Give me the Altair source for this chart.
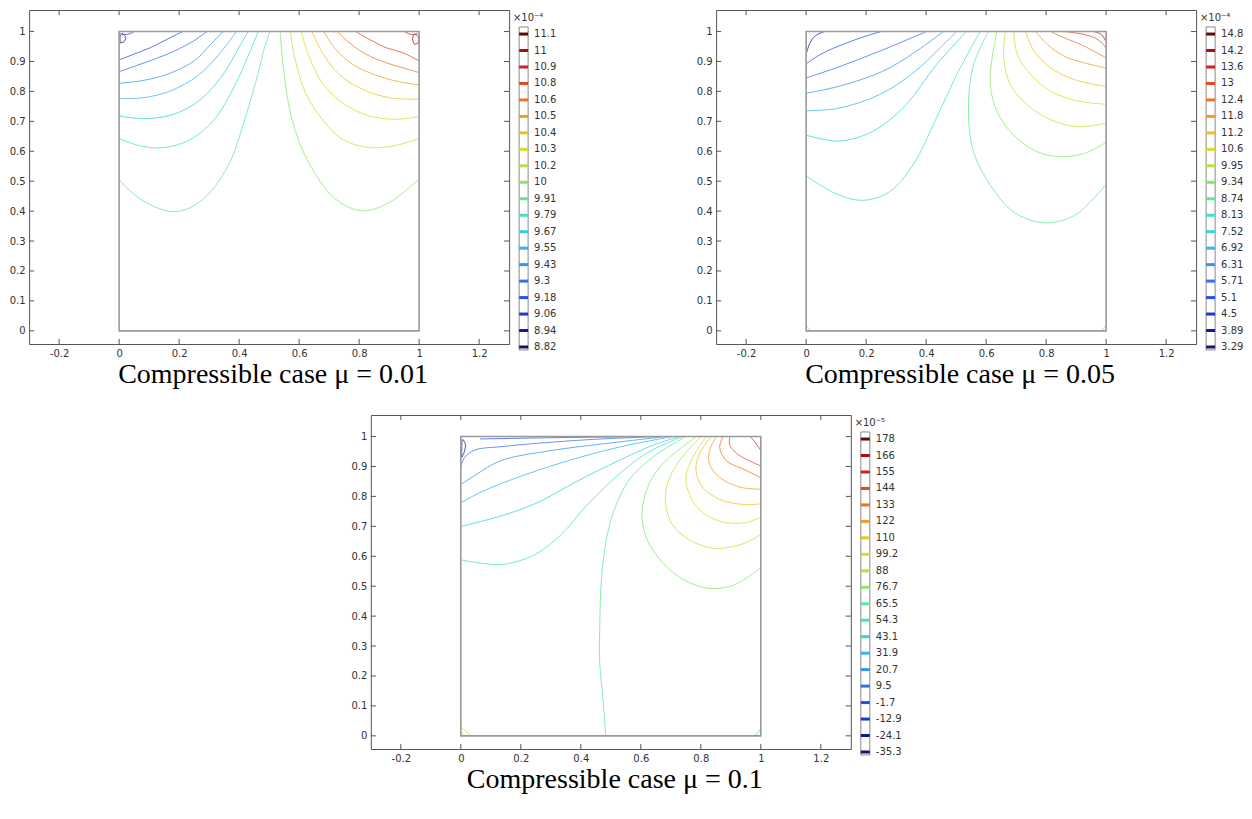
import altair as alt
import pandas as pd

# ---------------- data ----------------
levels_mu001 = ["8.82", "8.94", "9.06", "9.18", "9.3", "9.43", "9.55", "9.67", "9.79", "9.91",
                "10", "10.2", "10.3", "10.4", "10.5", "10.6", "10.8", "10.9", "11", "11.1"]
levels_mu005 = ["3.29", "3.89", "4.5", "5.1", "5.71", "6.31", "6.92", "7.52", "8.13", "8.74",
                "9.34", "9.95", "10.6", "11.2", "11.8", "12.4", "13", "13.6", "14.2", "14.8"]
levels_mu01 = ["-35.3", "-24.1", "-12.9", "-1.7", "9.5", "20.7", "31.9", "43.1", "54.3", "65.5",
               "76.7", "88", "99.2", "110", "122", "133", "144", "155", "166", "178"]

level_colors = ["#1b1464", "#0f1a9c", "#1f34cc", "#2550e6", "#3371ee", "#3593f2", "#33b5f0",
                "#33d2e0", "#3fe3c0", "#5ce898", "#86e865", "#b4e63a", "#d9dc22", "#eec31d",
                "#ef9f1f", "#ea7420", "#e4491e", "#d4201a", "#a90d0d", "#5e0a0a"]

x_ticks = [-0.2, 0, 0.2, 0.4, 0.6, 0.8, 1, 1.2]
y_ticks = [0, 0.1, 0.2, 0.3, 0.4, 0.5, 0.6, 0.7, 0.8, 0.9, 1]
x_domain = [-0.3, 1.3]
y_domain = [-0.044, 1.072]
domain_box = [0, 1]

captions = ["Compressible case \u03bc = 0.01", "Compressible case \u03bc = 0.05",
            "Compressible case \u03bc = 0.1"]
exponents = ["\u00d710\u207b\u2074", "\u00d710\u207b\u2074", "\u00d710\u207b\u2075"]

# contour lines: (level index, [(x, y), ...])
contours_mu001 = [
    (0, [(0.004, 0.962), (0.016, 0.966), (0.022, 0.980), (0.012, 0.992), (0.004, 0.985), (0.004, 0.962)]),
    (2, [(0.0, 0.994), (0.025, 0.990), (0.05, 1.0)]),
    (3, [(0, 0.905), (0.048, 0.924), (0.104, 0.946), (0.160, 0.974), (0.211, 1)]),
    (4, [(0, 0.866), (0.071, 0.891), (0.160, 0.924), (0.239, 0.963), (0.293, 1)]),
    (5, [(0, 0.827), (0.071, 0.835), (0.160, 0.857), (0.250, 0.902), (0.306, 0.958), (0.346, 1)]),
    (6, [(0, 0.776), (0.082, 0.779), (0.172, 0.802), (0.262, 0.852), (0.329, 0.919), (0.391, 1)]),
    (7, [(0, 0.718), (0.082, 0.709), (0.183, 0.724), (0.273, 0.774), (0.351, 0.863), (0.396, 0.941), (0.430, 1)]),
    (8, [(0, 0.642), (0.071, 0.618), (0.149, 0.612), (0.239, 0.640), (0.318, 0.707), (0.385, 0.818), (0.435, 0.930), (0.464, 1)]),
    (9, [(0, 0.504), (0.071, 0.440), (0.183, 0.398), (0.273, 0.434), (0.363, 0.551), (0.419, 0.707), (0.464, 0.863), (0.486, 0.952), (0.503, 1)]),
    (10, [(0.537, 1), (0.548, 0.874), (0.576, 0.707), (0.632, 0.562), (0.722, 0.440), (0.811, 0.401), (0.901, 0.429), (1, 0.508)]),
    (11, [(0.570, 1), (0.587, 0.907), (0.621, 0.796), (0.677, 0.707), (0.744, 0.640), (0.834, 0.612), (0.924, 0.620), (1, 0.642)]),
    (12, [(0.607, 1), (0.632, 0.919), (0.677, 0.829), (0.744, 0.762), (0.834, 0.718), (0.924, 0.707), (1, 0.716)]),
    (13, [(0.643, 1), (0.677, 0.930), (0.733, 0.857), (0.811, 0.807), (0.901, 0.779), (1, 0.774)]),
    (14, [(0.682, 1), (0.722, 0.941), (0.778, 0.891), (0.856, 0.854), (0.935, 0.832), (1, 0.822)]),
    (15, [(0.727, 1), (0.767, 0.963), (0.823, 0.924), (0.890, 0.896), (1, 0.863)]),
    (16, [(0.789, 1), (0.834, 0.974), (0.890, 0.946), (0.946, 0.929), (1, 0.902)]),
    (17, [(0.95, 1.0), (0.975, 0.990), (0.996, 0.994)]),
    (18, [(0.984, 0.958), (0.996, 0.962), (0.996, 0.985), (0.984, 0.990), (0.978, 0.975), (0.984, 0.958)]),
]

contours_mu005 = [
    (1, [(0.002, 0.93), (0.012, 0.96), (0.03, 0.985), (0.06, 1.0)]),
    (3, [(0, 0.892), (0.05, 0.925), (0.13, 0.96), (0.2, 0.985), (0.25, 1)]),
    (4, [(0, 0.845), (0.098, 0.878), (0.244, 0.934), (0.401, 1)]),
    (5, [(0, 0.794), (0.109, 0.817), (0.255, 0.867), (0.367, 0.934), (0.457, 1)]),
    (6, [(0, 0.735), (0.109, 0.744), (0.244, 0.789), (0.356, 0.861), (0.446, 0.945), (0.502, 1)]),
    (7, [(0, 0.654), (0.109, 0.634), (0.221, 0.666), (0.333, 0.755), (0.434, 0.889), (0.535, 1)]),
    (8, [(0, 0.518), (0.098, 0.459), (0.187, 0.436), (0.277, 0.464), (0.356, 0.554), (0.434, 0.710), (0.502, 0.856), (0.580, 1)]),
    (9, [(0.608, 1), (0.558, 0.889), (0.541, 0.744), (0.558, 0.598), (0.614, 0.487), (0.692, 0.397), (0.793, 0.361), (0.895, 0.386), (1, 0.489)]),
    (10, [(0.636, 1), (0.620, 0.912), (0.614, 0.822), (0.636, 0.733), (0.692, 0.654), (0.771, 0.598), (0.850, 0.582), (0.928, 0.593), (1, 0.630)]),
    (11, [(0.664, 1), (0.659, 0.912), (0.681, 0.822), (0.737, 0.755), (0.816, 0.705), (0.906, 0.682), (1, 0.694)]),
    (12, [(0.692, 1), (0.704, 0.923), (0.749, 0.856), (0.816, 0.800), (0.906, 0.768), (1, 0.757)]),
    (13, [(0.732, 1), (0.760, 0.934), (0.816, 0.878), (0.895, 0.839), (1, 0.817)]),
    (14, [(0.765, 1), (0.805, 0.956), (0.861, 0.917), (0.928, 0.895), (1, 0.878)]),
    (15, [(0.816, 1), (0.861, 0.979), (0.917, 0.956), (1, 0.912)]),
    (16, [(0.861, 1), (0.928, 0.990), (0.973, 0.973), (1, 0.945)]),
    (18, [(0.96, 1.0), (0.985, 0.99), (0.997, 0.97)]),
    (10, [(0.0, 0.02), (0.008, 0.008), (0.02, 0.0)]),
    (10, [(0.98, 0.0), (0.992, 0.008), (1.0, 0.02)]),
]

contours_mu01 = [
    (1, [(0.003, 0.93), (0.012, 0.95), (0.015, 0.975), (0.006, 0.99), (0.003, 0.93)]),
    (3, [(0.064, 0.992), (0.300, 0.996), (0.600, 1)]),
    (4, [(0, 0.899), (0.013, 0.930), (0.047, 0.955), (0.132, 0.966), (0.300, 0.981), (0.469, 0.992), (0.660, 1)]),
    (5, [(0, 0.840), (0.053, 0.874), (0.132, 0.919), (0.300, 0.953), (0.469, 0.975), (0.683, 1)]),
    (6, [(0, 0.779), (0.075, 0.818), (0.188, 0.863), (0.357, 0.919), (0.525, 0.964), (0.705, 1)]),
    (7, [(0, 0.700), (0.132, 0.734), (0.255, 0.779), (0.390, 0.852), (0.525, 0.919), (0.638, 0.970), (0.728, 1)]),
    (8, [(0, 0.588), (0.075, 0.576), (0.143, 0.573), (0.244, 0.604), (0.334, 0.672), (0.413, 0.762), (0.503, 0.852), (0.615, 0.942), (0.739, 1)]),
    (9, [(0.750, 1), (0.638, 0.930), (0.559, 0.852), (0.514, 0.762), (0.486, 0.661), (0.469, 0.526), (0.463, 0.357), (0.463, 0.245), (0.475, 0.110), (0.483, 0)]),
    (10, [(0.784, 1), (0.672, 0.908), (0.627, 0.840), (0.604, 0.751), (0.615, 0.672), (0.660, 0.593), (0.728, 0.531), (0.818, 0.494), (0.908, 0.503), (1, 0.562)]),
    (11, [(0.801, 1), (0.728, 0.919), (0.688, 0.840), (0.683, 0.773), (0.705, 0.706), (0.762, 0.655), (0.840, 0.627), (0.930, 0.638), (1, 0.672)]),
    (12, [(0.818, 1), (0.773, 0.930), (0.750, 0.863), (0.762, 0.807), (0.795, 0.756), (0.863, 0.717), (0.942, 0.711), (1, 0.730)]),
    (13, [(0.835, 1), (0.795, 0.942), (0.784, 0.885), (0.807, 0.829), (0.863, 0.790), (0.942, 0.773), (1, 0.775)]),
    (14, [(0.852, 1), (0.829, 0.953), (0.829, 0.908), (0.863, 0.863), (0.930, 0.831), (1, 0.824)]),
    (15, [(0.874, 1), (0.863, 0.964), (0.885, 0.919), (0.942, 0.891), (1, 0.863)]),
    (16, [(0.897, 1), (0.897, 0.970), (0.930, 0.936), (1, 0.902)]),
    (17, [(0.964, 1), (0.981, 0.981), (1, 0.953)]),
    (10, [(0.0, 0.03), (0.012, 0.018), (0.025, 0.008), (0.03, 0.0)]),
    (11, [(0.0, 0.015), (0.01, 0.006), (0.015, 0.0)]),
    (8, [(0.975, 0.0), (0.99, 0.01), (1.0, 0.025)]),
]

# ---------------- styling ----------------
AXIS_FONT = "DejaVu Sans"
CAPTION_FONT = "Liberation Serif"
PANEL_W, PANEL_H = 480, 334
CB_W, CB_H = 9, 342
cb_domain = [-0.304, 20.46]
cb_box = [-0.18, 19.43]
cb_title_pos = 19.95
tick_len = 0.017


def panel(contours, caption):
    rows = []
    for k, (lvl, pts) in enumerate(contours):
        for j, (px, py) in enumerate(pts):
            rows.append({"line": k, "o": j, "lvl": lvl, "x": px, "y": py})
    df = pd.DataFrame(rows)

    xs = alt.Scale(domain=x_domain, nice=False, zero=False)
    ys = alt.Scale(domain=y_domain, nice=False, zero=False)
    lab = "datum.value < 0 ? '-' + format(-datum.value, '~g') : format(datum.value, '~g')"
    common = dict(ticks=False, domain=False, grid=False, labelPadding=4, title=None, labelFont=AXIS_FONT,
                  labelFontSize=10, labelColor="#333333", labelOverlap=False, labelExpr=lab)
    X = alt.X("x:Q", scale=xs, axis=alt.Axis(values=x_ticks, **common))
    Y = alt.Y("y:Q", scale=ys, axis=alt.Axis(values=y_ticks, **common))

    lines = alt.Chart(df).mark_line(interpolate="catmull-rom", strokeWidth=1, opacity=0.75).encode(
        x=X, y=Y,
        color=alt.Color("lvl:O", scale=alt.Scale(domain=list(range(20)), range=level_colors), legend=None),
        detail="line:N", order="o:Q")

    box = alt.Chart(pd.DataFrame({"x": [domain_box[0]], "x2": [domain_box[1]],
                                  "y": [domain_box[0]], "y2": [domain_box[1]]})).mark_rect(
        fill="transparent", stroke="#9a9a9a", strokeWidth=1.6).encode(
        x=X, x2=alt.X2("x2:Q"), y=Y, y2=alt.Y2("y2:Q"))

    tb = pd.DataFrame({"x": x_ticks, "y": [y_domain[0]] * len(x_ticks), "y2": [y_domain[0] + tick_len] * len(x_ticks)})
    tt = pd.DataFrame({"x": x_ticks, "y": [y_domain[1] - tick_len] * len(x_ticks), "y2": [y_domain[1]] * len(x_ticks)})
    tl = pd.DataFrame({"y": y_ticks, "x": [x_domain[0]] * len(y_ticks), "x2": [x_domain[0] + tick_len] * len(y_ticks)})
    tr = pd.DataFrame({"y": y_ticks, "x": [x_domain[1] - tick_len] * len(y_ticks), "x2": [x_domain[1]] * len(y_ticks)})
    vt = alt.Chart(pd.concat([tb, tt])).mark_rule(color="#555555", strokeWidth=1).encode(
        x=X, y=Y, y2=alt.Y2("y2:Q"))
    ht = alt.Chart(pd.concat([tl, tr])).mark_rule(color="#555555", strokeWidth=1).encode(
        y=Y, x=X, x2=alt.X2("x2:Q"))

    return alt.layer(lines, box, vt, ht).properties(
        width=PANEL_W, height=PANEL_H,
        title=alt.TitleParams(caption, orient="bottom", font=CAPTION_FONT, fontSize=28,
                              fontWeight="normal", color="#000000", frame="group",
                              anchor="middle", offset=3, dx=4))


def colorbar(levels, exponent):
    df = pd.DataFrame({"idx": list(range(len(levels))), "label": levels})
    ys = alt.Scale(domain=cb_domain, nice=False, zero=False)
    box = alt.Chart(pd.DataFrame({"a": [cb_box[0]], "b": [cb_box[1]]})).mark_rect(
        fill="white", stroke="#8a8a8a", strokeWidth=1).encode(
        x=alt.value(0), x2=alt.value(CB_W), y=alt.Y("a:Q", scale=ys, axis=None), y2="b:Q")
    ticks = alt.Chart(df).mark_rule(strokeWidth=3).encode(
        y=alt.Y("idx:Q", scale=ys, axis=None), x=alt.value(0), x2=alt.value(CB_W),
        color=alt.Color("idx:O", scale=alt.Scale(domain=list(range(20)), range=level_colors), legend=None))
    labels = alt.Chart(df).mark_text(align="left", baseline="middle", font=AXIS_FONT, fontSize=10,
                                     color="#333333").encode(
        y=alt.Y("idx:Q", scale=ys, axis=None), x=alt.value(CB_W + 6), text="label:N")
    head = alt.Chart(pd.DataFrame({"t": [exponent], "idx": [cb_title_pos]})).mark_text(
        align="center", baseline="middle", font=AXIS_FONT, fontSize=10, color="#333333").encode(
        y=alt.Y("idx:Q", scale=ys, axis=None), x=alt.value(CB_W), text="t:N")
    return alt.layer(box, ticks, labels, head).properties(
        width=CB_W, height=CB_H, view=alt.ViewBackground(stroke="transparent"))


def group(contours, levels, caption, exponent):
    return alt.hconcat(panel(contours, caption), colorbar(levels, exponent), spacing=10,
                       bounds="flush").resolve_scale(x="independent", y="independent")


g1 = group(contours_mu001, levels_mu001, captions[0], exponents[0])
g2 = group(contours_mu005, levels_mu005, captions[1], exponents[1])
g3 = group(contours_mu01, levels_mu01, captions[2], exponents[2])

top = alt.hconcat(g1, g2, spacing=138).resolve_scale(x="independent", y="independent")
chart = alt.vconcat(top, g3, spacing=24, center=True).resolve_scale(
    x="independent", y="independent").properties(
    padding={"left": 0, "top": 1, "right": 0, "bottom": 0},
    background="white").configure_view(stroke="#555555", strokeWidth=1)

chart.save("out.html", embed_options={"renderer": "svg", "actions": False})
